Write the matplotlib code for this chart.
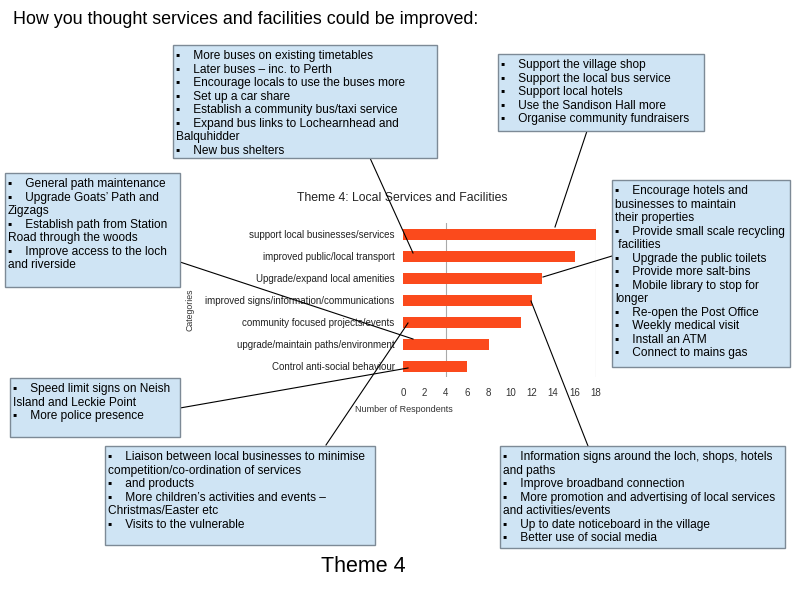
import matplotlib
matplotlib.use('Agg')
import matplotlib.pyplot as plt
from matplotlib.patches import Rectangle
from matplotlib.lines import Line2D

# chart data
categories = ['support local businesses/services',
              'improved public/local transport',
              'Upgrade/expand local amenities',
              'improved signs/information/communications',
              'community focused projects/events',
              'upgrade/maintain paths/environment',
              'Control anti-social behaviour']
respondents = [18, 16, 13, 12, 11, 8, 6]
xticks = [0, 2, 4, 6, 8, 10, 12, 14, 16, 18]

B = '\u25aa'  # small square bullet

# text of the call-out boxes
transport_text = [B + '    More buses on existing timetables',
                  B + '    Later buses \u2013 inc. to Perth',
                  B + '    Encourage locals to use the buses more',
                  B + '    Set up a car share',
                  B + '    Establish a community bus/taxi service',
                  B + '    Expand bus links to Lochearnhead and',
                  'Balquhidder',
                  B + '    New bus shelters']
business_text = [B + '    Support the village shop',
                 B + '    Support the local bus service',
                 B + '    Support local hotels',
                 B + '    Use the Sandison Hall more',
                 B + '    Organise community fundraisers']
paths_text = [B + '    General path maintenance',
              B + '    Upgrade Goats\u2019 Path and',
              'Zigzags',
              B + '    Establish path from Station',
              'Road through the woods',
              B + '    Improve access to the loch',
              'and riverside']
amenities_text = [B + '    Encourage hotels and',
                  'businesses to maintain',
                  'their properties',
                  B + '    Provide small scale recycling',
                  ' facilities',
                  B + '    Upgrade the public toilets',
                  B + '    Provide more salt-bins',
                  B + '    Mobile library to stop for',
                  'longer',
                  B + '    Re-open the Post Office',
                  B + '    Weekly medical visit',
                  B + '    Install an ATM',
                  B + '    Connect to mains gas']
speed_text = [B + '    Speed limit signs on Neish',
              'Island and Leckie Point',
              B + '    More police presence']
community_text = [B + '    Liaison between local businesses to minimise',
                  'competition/co-ordination of services',
                  B + '    and products',
                  B + '    More children\u2019s activities and events \u2013',
                  'Christmas/Easter etc',
                  B + '    Visits to the vulnerable']
signs_text = [B + '    Information signs around the loch, shops, hotels',
              'and paths',
              B + '    Improve broadband connection',
              B + '    More promotion and advertising of local services',
              'and activities/events',
              B + '    Up to date noticeboard in the village',
              B + '    Better use of social media']

W, H = 794, 595
fonts = ['Liberation Sans', 'DejaVu Sans']
plt.rcParams['font.family'] = fonts

fig = plt.figure(figsize=(W / 100, H / 100), dpi=100)


def fx(px):
    return px / W


def fy(py):
    return 1 - py / H


# bar chart axes (pixel box: left 403, right 596, top 223, bottom 377)
ax = fig.add_axes([fx(403), fy(377), fx(596) - fx(403), (377 - 223) / H])
ypos = list(range(len(categories)))
ax.barh(ypos, respondents, height=0.5, color='#fb4a1c', zorder=2)
ax.set_ylim(len(categories) - 0.5, -0.5)
ax.set_xlim(0, 18)
ax.set_yticks(ypos)
ax.set_yticklabels(categories, fontsize=7, color='#222222')
ax.set_xticks(xticks)
ax.set_xticklabels([str(t) for t in xticks], fontsize=7, color='#333333')
ax.tick_params(length=0)
ax.tick_params(axis='y', pad=6)
ax.tick_params(axis='x', pad=8)
for s in ax.spines.values():
    s.set_visible(False)
for g in [4, 18]:
    ax.axvline(g, color='#aaaaaa', lw=0.8, zorder=1)

fig.text(fx(402), fy(198), 'Theme 4: Local Services and Facilities',
         fontsize=8.8, ha='center', va='center', color='#222222')
fig.text(fx(404), fy(409), 'Number of Respondents', fontsize=6.5,
         ha='center', va='center', color='#333333')
fig.text(fx(190), fy(310), 'Categories', fontsize=6.3, rotation=90,
         ha='center', va='center', color='#333333')

# page title and footer
fig.text(fx(13), fy(20), 'How you thought services and facilities could be improved:',
         fontsize=12.9, ha='left', va='center')
fig.text(fx(363), fy(566), 'Theme 4', fontsize=15.5, ha='center', va='center')


def box(x0, y0, x1, y1, lines):
    r = Rectangle((fx(x0), fy(y1)), fx(x1) - fx(x0), (y1 - y0) / H,
                  transform=fig.transFigure, facecolor='#cfe4f4',
                  edgecolor='#7d8a96', lw=1.0, zorder=6)
    fig.add_artist(r)
    fig.text(fx(x0 + 3), fy(y0 + 5), '\n'.join(lines), fontsize=8.6,
             ha='left', va='top', linespacing=1.17, zorder=7)


def link(x0, y0, x1, y1):
    fig.add_artist(Line2D([fx(x0), fx(x1)], [fy(y0), fy(y1)],
                          transform=fig.transFigure, color='black',
                          lw=0.8, zorder=5))


# connector lines
link(370, 158, 413, 253)
link(587, 131, 555, 227)
link(180, 262, 413, 339)
link(612, 256, 543, 277)
link(180, 408, 408, 368)
link(326, 445, 408, 323)
link(531, 301, 588, 446)

# call-out boxes
box(173, 45, 437, 158, transport_text)
box(498, 54, 704, 131, business_text)
box(5, 173, 180, 287, paths_text)
box(612, 180, 790, 367, amenities_text)
box(10, 378, 180, 437, speed_text)
box(105, 446, 375, 545, community_text)
box(500, 446, 785, 548, signs_text)

fig.savefig('out.png', dpi=100)
